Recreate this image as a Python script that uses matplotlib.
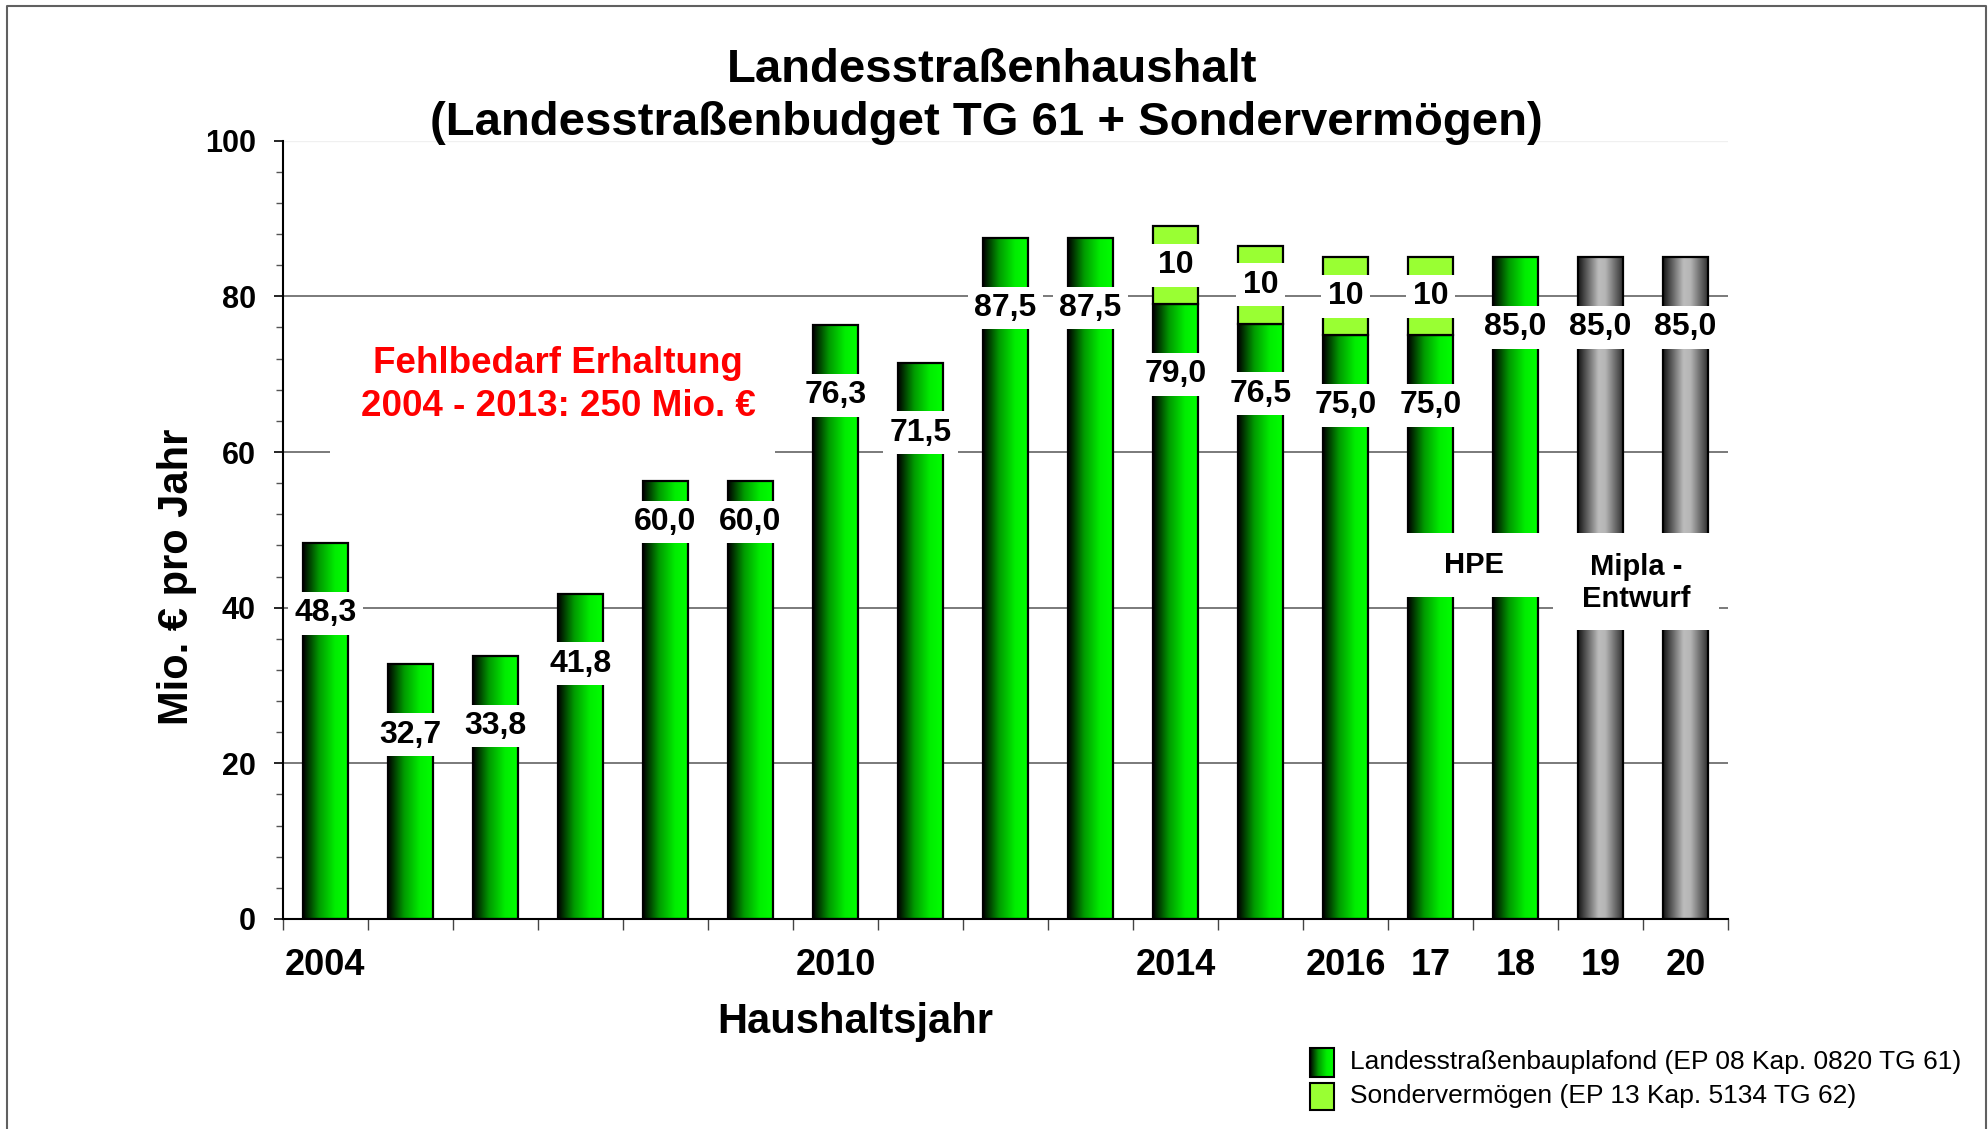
import numpy as np
import matplotlib
matplotlib.use("Agg")
import matplotlib.pyplot as plt
from matplotlib.colors import LinearSegmentedColormap
from matplotlib.patches import Rectangle
from matplotlib.ticker import MultipleLocator, FixedLocator

plt.rcParams["font.family"] = ["Liberation Sans", "DejaVu Sans"]

# ── data ──────────────────────────────────────────────────────────────────
years = [str(y) for y in range(2004, 2021)]
tick_text = ["2004", "", "", "", "", "", "2010", "", "", "", "2014", "",
             "2016", "17", "18", "19", "20"]
# drawn bar tops of the Landesstraßenbauplafond (2008/09 are drawn lower than their label)
plafond = [48.3, 32.7, 33.8, 41.8, 56.3, 56.3, 76.3, 71.5, 87.5, 87.5,
           79.0, 76.5, 75.0, 75.0, 85.0, 85.0, 85.0]
plafond_lbl = ["48,3", "32,7", "33,8", "41,8", "60,0", "60,0", "76,3", "71,5",
               "87,5", "87,5", "79,0", "76,5", "75,0", "75,0", "85,0", "85,0", "85,0"]
sonder = [0, 0, 0, 0, 0, 0, 0, 0, 0, 0, 10, 10, 10, 10, 0, 0, 0]
mipla = [False] * 15 + [True, True]
y_major = [0, 20, 40, 60, 80, 100]

W, H = 1988, 1129
GREEN = LinearSegmentedColormap.from_list(
    "grn", [(0, "#000000"), (0.35, "#009a00"), (0.7, "#00ee00"), (1, "#00ff00")])
GRAY = LinearSegmentedColormap.from_list(
    "gry", [(0, "#151515"), (0.45, "#bdbdbd"), (0.6, "#b5b5b5"), (1, "#2a2a2a")])
LIGHT = "#99ff33"
grad = np.linspace(0, 1, 256).reshape(1, -1)

fig = plt.figure(figsize=(W / 100, H / 100), dpi=100)
fig.patch.set_facecolor("white")

ax = fig.add_axes([283 / W, 1 - 919 / H, 1445 / W, (919 - 140.7) / H])
x = np.arange(len(years))

# gridlines
for v in y_major[1:-1]:
    ax.axhline(v, color="#707070", lw=1.3, zorder=0.5)
ax.axhline(100, color="#f0f0f0", lw=1, zorder=0.5)

# main bars with horizontal gradient
bars = ax.bar(x, plafond, width=0.54, facecolor="none", edgecolor="black",
              lw=1.6, zorder=3)
for b, grey in zip(bars, mipla):
    x0, y0 = b.get_x(), b.get_y()
    im = ax.imshow(grad, cmap=GRAY if grey else GREEN, aspect="auto",
                   extent=[x0, x0 + b.get_width(), y0, y0 + b.get_height()],
                   zorder=2.5, interpolation="bicubic")
    im.set_clip_path(b)

# Sondervermögen on top
sx = [i for i, s in enumerate(sonder) if s > 0]
ax.bar(sx, [sonder[i] for i in sx], bottom=[plafond[i] for i in sx], width=0.54,
       color=LIGHT, edgecolor="black", lw=1.6, zorder=3)

box = dict(boxstyle="square,pad=0.2", fc="white", ec="none")
for i, lbl in enumerate(plafond_lbl):
    val = float(lbl.replace(",", "."))
    ax.text(i, val - 9, lbl, ha="center", va="center", fontsize=23,
            fontweight="bold", bbox=box, zorder=6)
for i in sx:
    ax.text(i, plafond[i] + sonder[i] / 2, f"{sonder[i]:d}", ha="center",
            va="center", fontsize=23, fontweight="bold", bbox=box, zorder=6)

# annotation boxes
ax.add_patch(Rectangle((0.05, 58.0), 5.24, 21.0, fc="white", ec="none", zorder=5))
ax.text(2.735, 68.6, "Fehlbedarf Erhaltung\n2004 - 2013: 250 Mio. €", ha="center",
        va="center", fontsize=26.5, fontweight="bold", color="#ff0000",
        linespacing=1.3, zorder=6)
ax.add_patch(Rectangle((12.6, 41.4), 1.75, 8.2, fc="white", ec="none", zorder=5))
ax.text(13.51, 45.5, "HPE", ha="center", va="center", fontsize=21,
        fontweight="bold", zorder=6)
ax.add_patch(Rectangle((14.44, 37.1), 1.95, 12.5, fc="white", ec="none", zorder=5))
ax.text(15.42, 43.2, "Mipla -\nEntwurf", ha="center", va="center", fontsize=21,
        fontweight="bold", linespacing=1.2, zorder=6)

# axes styling
ax.set_xlim(-0.5, len(years) - 0.5)
ax.set_ylim(0, 100)
ax.set_xticks(x)
ax.set_xticklabels(tick_text, fontsize=26, fontweight="bold")
ax.tick_params(axis="x", which="major", length=0, pad=21)
ax.xaxis.set_minor_locator(FixedLocator(np.arange(-0.5, len(years), 1)))
ax.tick_params(axis="x", which="minor", length=7.7, width=1, color="#444444")
ax.set_yticks(y_major)
ax.set_yticklabels([str(v) for v in y_major], fontsize=22, fontweight="bold")
ax.yaxis.set_minor_locator(MultipleLocator(4))
ax.tick_params(axis="y", which="major", length=6.7, width=1.2, pad=13)
ax.tick_params(axis="y", which="minor", length=4.8, width=1, color="#555555")
for s in ["top", "right"]:
    ax.spines[s].set_visible(False)
for s in ["left", "bottom"]:
    ax.spines[s].set_linewidth(1.5)
ax.patch.set_alpha(0)

# ── overlay in pixel coords: titles, labels, legend, frame ─────────────────
ov = fig.add_axes([0, 0, 1, 1], zorder=10)
ov.axis("off")

ov.text(992, 70, "Landesstraßenhaushalt", ha="center", va="center",
        fontsize=34, fontweight="bold")
ov.text(986, 123, "(Landesstraßenbudget TG 61 + Sondervermögen)", ha="center",
        va="center", fontsize=34, fontweight="bold")
ov.text(177, 577, "Mio. € pro Jahr", ha="center", va="center", rotation=90,
        fontsize=30, fontweight="bold")
ov.text(855, 1022, "Haushaltsjahr", ha="center", va="center",
        fontsize=30, fontweight="bold")

# legend
ov.imshow(grad, cmap=GREEN, aspect="auto", extent=[1310, 1334, 1077, 1048],
          interpolation="bicubic")
ov.add_patch(Rectangle((1310, 1048), 24, 29, fc="none", ec="black", lw=1.5))
ov.add_patch(Rectangle((1310, 1083), 24, 27, fc=LIGHT, ec="black", lw=1.5))
ov.text(1350, 1062, "Landesstraßenbauplafond (EP 08 Kap. 0820 TG 61)",
        ha="left", va="center", fontsize=19)
ov.text(1350, 1096, "Sondervermögen (EP 13 Kap. 5134 TG 62)",
        ha="left", va="center", fontsize=19)

# frame
ov.plot([7, 7, 1986, 1986], [H, 6, 6, H], color="#606060", lw=1.5,
        clip_on=False)

ov.set_xlim(0, W)
ov.set_ylim(H, 0)

fig.savefig("out.png", dpi=100)
